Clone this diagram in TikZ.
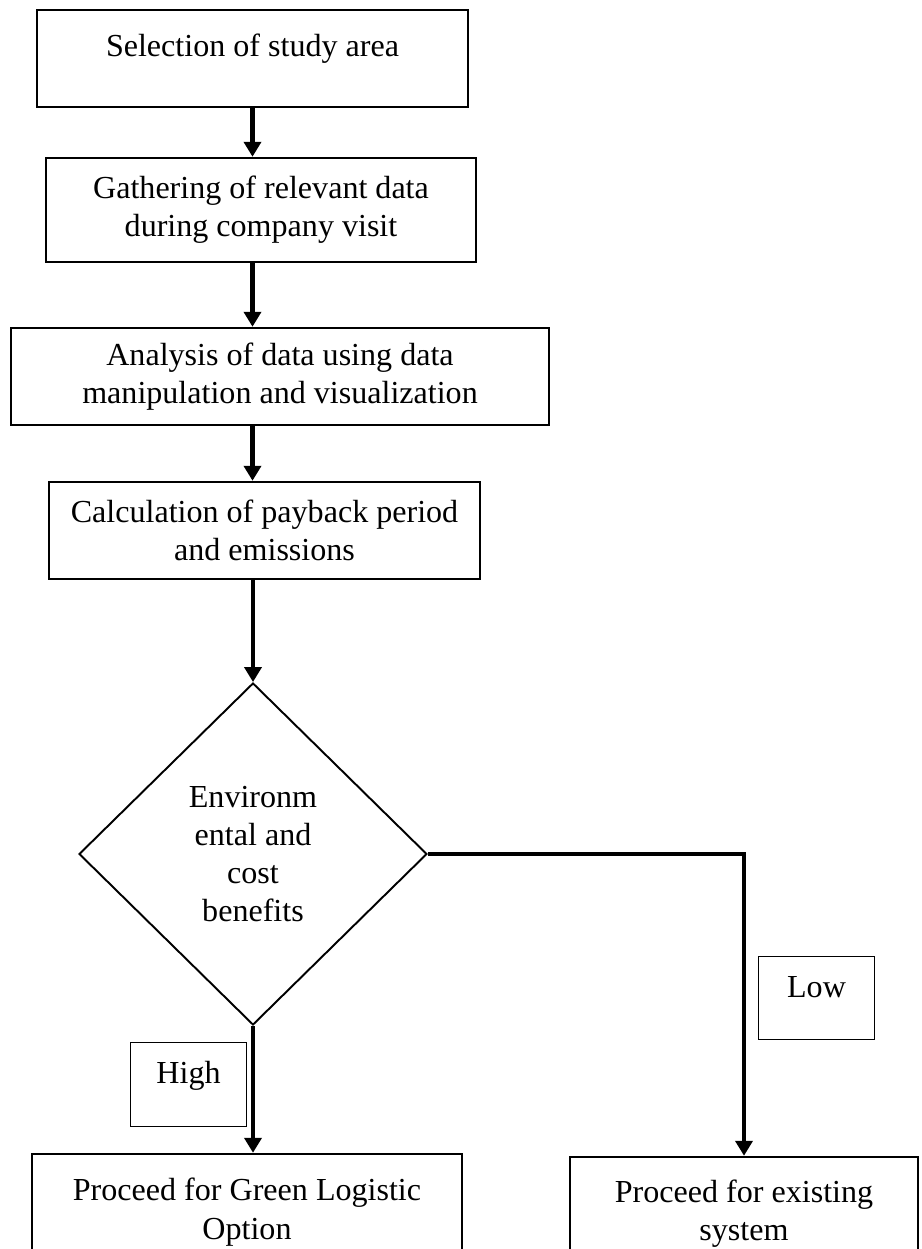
\documentclass[tikz,border=0pt]{standalone}
\usepackage{fontspec}
\setmainfont{Liberation Serif}
\usepackage{tikz}
\usetikzlibrary{shapes.geometric,arrows.meta}
\tikzset{
  txt/.style={font=\fontsize{18.25}{21.8}\selectfont},
  stepbox/.style={txt, draw=black, line width=1.4pt, align=center, inner sep=0pt},
  decide/.style={txt, draw=black, diamond, line width=1.1pt, align=center, inner sep=0pt,
    minimum width=6.96cm, minimum height=6.84cm},
  tag/.style={txt, draw=black, line width=0.8pt, inner sep=0pt, minimum width=2.32cm,
    minimum height=1.67cm, text height=0.45cm, text depth=0.49cm},
  flow/.style={draw=black, line width=2.3pt, -{Triangle[width=3.4mm,length=3mm]}}
}
\begin{document}
\begin{tikzpicture}
  \useasboundingbox (0,0) rectangle (18.42,-24.98);
  \clip (0,0) rectangle (18.42,-24.98);
  \node[stepbox, minimum width=8.62cm, minimum height=1.94cm, text height=0.45cm, text depth=0.51cm]
    (sel) at (5.05,-1.17) {Selection of study area};
  \node[stepbox, minimum width=8.6cm, minimum height=2.08cm]
    (gath) at (5.22,-4.2) {Gathering of relevant data\\during company visit};
  \node[stepbox, minimum width=10.76cm, minimum height=1.94cm]
    (anal) at (5.6,-7.53) {Analysis of data using data\\manipulation and visualization};
  \node[stepbox, minimum width=8.62cm, minimum height=1.94cm]
    (calc) at (5.29,-10.61) {Calculation of payback period\\and emissions};
  \node[decide] (env) at (5.06,-17.08) {Environm\\ental and\\cost\\benefits};
  \node[tag] (high) at (3.77,-21.69) {High};
  \node[tag] (low) at (16.33,-19.96) {Low};
  \node[stepbox, minimum width=8.6cm, minimum height=2.32cm]
    (green) at (4.94,-24.24) {Proceed for Green Logistic\\Option};
  \node[stepbox, minimum width=6.96cm, minimum height=2.26cm]
    (exist) at (14.88,-24.27) {Proceed for existing\\system};
  \draw[flow] (sel.south) -- (sel.south |- gath.north);
  \draw[flow] (gath.south -| sel.south) -- (sel.south |- anal.north);
  \draw[flow] (anal.south -| sel.south) -- (sel.south |- calc.north);
  \draw[flow] (calc.south -| env.north) -- (env.north);
  \draw[flow] (env.south) -- (env.south |- green.north);
  \draw[flow] (env.east) -| (exist.north);
\end{tikzpicture}
\end{document}
